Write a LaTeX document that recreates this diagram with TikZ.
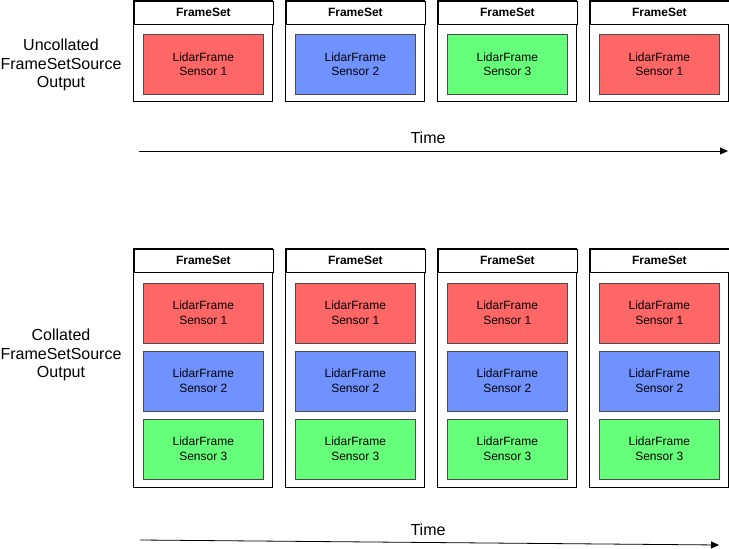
\documentclass[tikz,border=0pt]{standalone}
\usepackage{fontspec}
\setmainfont{Liberation Sans}
\usetikzlibrary{arrows.meta}
\definecolor{fred}{RGB}{255,102,102}
\definecolor{fblue}{RGB}{112,146,255}
\definecolor{fgreen}{RGB}{102,255,122}
\begin{document}
\begin{tikzpicture}[x=1pt,y=-1pt,
  outerbox/.style={draw=black,line width=0.8pt,fill=white},
  headbox/.style={draw=black,line width=0.8pt,fill=white,minimum width=139pt,minimum height=23pt,inner sep=0pt,font=\fontsize{12}{14}\selectfont\bfseries,anchor=north west},
  framebox/.style={draw=black!70,line width=0.6pt,minimum width=120.6pt,minimum height=60pt,inner sep=0pt,align=center,font=\fontsize{12}{14.5}\selectfont,anchor=north west},
  sidelabel/.style={align=center,font=\fontsize{16}{18.5}\selectfont},
  timelabel/.style={font=\fontsize{16}{18}\selectfont},
  timearrow/.style={draw=black,line width=0.8pt,-{Triangle[length=8pt,width=7pt]}}]
\useasboundingbox (0,0) rectangle (729,549);
% top row
\foreach \i/\c/\n in {0/fred/1,1/fblue/2,2/fgreen/3,3/fred/1}{
  \pgfmathsetmacro{\xx}{133.5+152*\i}
  \draw[outerbox] (\xx,0.5) rectangle ++(139,101);
  \node[headbox] (th\i) at (\xx,0.5) {FrameSet};
  \node[framebox,fill=\c] (tf\i) at (\xx+9.2,34) {LidarFrame\\Sensor \n};
}
% bottom row
\foreach \i in {0,1,2,3}{
  \pgfmathsetmacro{\xx}{133.5+152*\i}
  \draw[outerbox] (\xx,248.5) rectangle ++(139,239);
  \node[headbox] (bh\i) at (\xx,248.5) {FrameSet};
  \node[framebox,fill=fred] (bfa\i) at (\xx+9.2,282.5) {LidarFrame\\Sensor 1};
  \node[framebox,fill=fblue] (bfb\i) at (\xx+9.2,350.5) {LidarFrame\\Sensor 2};
  \node[framebox,fill=fgreen] (bfc\i) at (\xx+9.2,418.5) {LidarFrame\\Sensor 3};
}
\node[sidelabel] (ulab) at (61,65) {Uncollated\\FrameSetSource\\Output};
\node[sidelabel] (clab) at (61,355) {Collated\\FrameSetSource\\Output};
\node[timelabel] (t1) at (428,138) {Time};
\node[timelabel] (t2) at (428,530) {Time};
\coordinate (a1s) at (139,151);
\coordinate (a1e) at (728,151);
\coordinate (a2s) at (140,540);
\coordinate (a2e) at (719,545);
\draw[timearrow] (a1s) -- (a1e);
\draw[timearrow] (a2s) -- (a2e);
\end{tikzpicture}
\end{document}
